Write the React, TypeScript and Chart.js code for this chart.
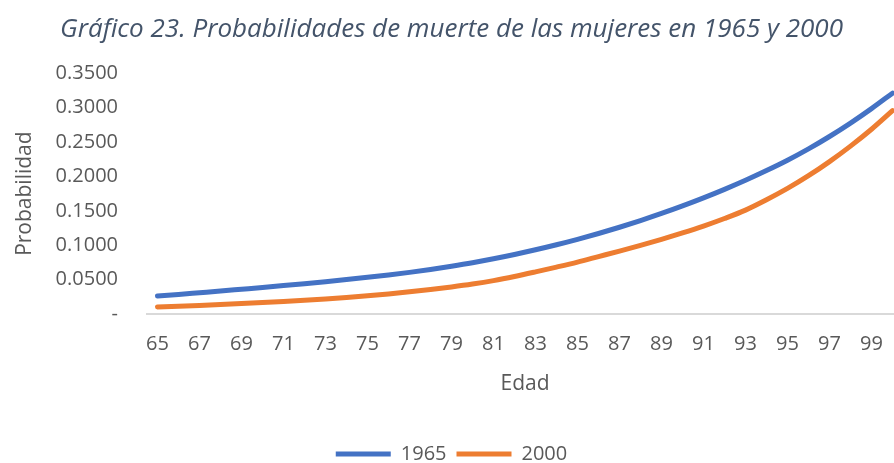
import React, { useEffect, useRef } from "react";
import { Chart, registerables } from "chart.js";

Chart.register(...registerables);

const ages: number[] = [
  65, 66, 67, 68, 69, 70, 71, 72, 73, 74, 75, 76, 77, 78, 79, 80, 81, 82,
  83, 84, 85, 86, 87, 88, 89, 90, 91, 92, 93, 94, 95, 96, 97, 98, 99, 100,
];

const mortality1965: number[] = [
  0.026, 0.0284, 0.0309, 0.0334, 0.036, 0.0386, 0.0413, 0.0441, 0.047, 0.0501,
  0.0533, 0.0567, 0.0605, 0.0648, 0.0695, 0.0746, 0.0803, 0.0865, 0.0933,
  0.1006, 0.1085, 0.117, 0.1261, 0.1358, 0.1461, 0.1571, 0.1688, 0.1812,
  0.1944, 0.2085, 0.2235, 0.24, 0.258, 0.2775, 0.2985, 0.321,
];

const mortality2000: number[] = [
  0.0102, 0.0113, 0.0125, 0.0138, 0.0152, 0.0167, 0.0183, 0.02, 0.0219, 0.0241,
  0.0265, 0.0292, 0.0322, 0.0356, 0.0393, 0.0435, 0.0485, 0.0545, 0.0612,
  0.0682, 0.0755, 0.0835, 0.0915, 0.0998, 0.1085, 0.1178, 0.1278, 0.1388,
  0.151, 0.166, 0.1825, 0.201, 0.2215, 0.244, 0.2685, 0.2955,
];

const seriesNames: string[] = ["1965", "2000"];
const titleText = "Gráfico 23. Probabilidades de muerte de las mujeres en 1965 y 2000";
const xTitle = "Edad";
const yTitle = "Probabilidad";

const FONT = "'Open Sans', 'Noto Sans', sans-serif";
const GREY = "#595959";

export default function App() {
  const canvasRef = useRef<HTMLCanvasElement | null>(null);

  useEffect(() => {
    document.body.style.margin = "0";
    document.body.style.overflow = "hidden";
    const canvas = canvasRef.current;
    if (!canvas) return;
    const chart = new Chart(canvas, {
      type: "line",
      data: {
        labels: ages.map(String),
        datasets: [
          {
            label: seriesNames[0],
            data: mortality1965,
            borderColor: "#4472C4",
            backgroundColor: "#4472C4",
            borderWidth: 5,
            borderCapStyle: "round",
            borderJoinStyle: "round",
            pointRadius: 0,
            cubicInterpolationMode: "monotone",
          },
          {
            label: seriesNames[1],
            data: mortality2000,
            borderColor: "#ED7D31",
            backgroundColor: "#ED7D31",
            borderWidth: 5,
            borderCapStyle: "round",
            borderJoinStyle: "round",
            pointRadius: 0,
            cubicInterpolationMode: "monotone",
          },
        ],
      },
      options: {
        animation: false,
        responsive: true,
        maintainAspectRatio: false,
        layout: { padding: { left: 0, right: 9, top: 0, bottom: 7 } },
        plugins: {
          title: {
            display: true,
            text: titleText,
            color: "#44546A",
            font: { family: FONT, size: 26, style: "italic", weight: "normal" },
            padding: { top: 14, bottom: 28 },
          },
          legend: {
            display: true,
            position: "bottom",
            labels: {
              usePointStyle: true,
              pointStyle: "line",
              pointStyleWidth: 55,
              color: GREY,
              font: { family: FONT, size: 20 },
              padding: 10,
            },
          },
          tooltip: { enabled: false },
        },
        scales: {
          x: {
            type: "category",
            offset: true,
            grid: { display: false, drawTicks: false },
            border: { display: true, color: "#D9D9D9", width: 2 },
            ticks: {
              autoSkip: false,
              maxRotation: 0,
              color: GREY,
              font: { family: FONT, size: 20 },
              padding: 18,
              callback: (_v: any, i: number) => (i % 2 === 0 ? ages[i] : ""),
            },
            title: {
              display: true,
              text: xTitle,
              color: GREY,
              font: { family: FONT, size: 21 },
              padding: { top: 0, bottom: 37 },
            },
            afterFit: (scale: any) => {
              scale.height = 120;
            },
          },
          y: {
            min: 0,
            max: 0.35,
            grid: { display: false, drawTicks: false },
            border: { display: false },
            ticks: {
              stepSize: 0.05,
              color: GREY,
              font: { family: FONT, size: 20 },
              padding: 29,
              callback: (v: any) => (Number(v) === 0 ? "-" : Number(v).toFixed(4)),
            },
            title: {
              display: true,
              text: yTitle,
              color: GREY,
              font: { family: FONT, size: 21 },
              padding: { top: 12, bottom: 0 },
            },
            afterFit: (scale: any) => {
              scale.width = 147;
            },
          },
        },
      },
    });
    return () => chart.destroy();
  }, []);

  return (
    <div style={{ width: 894, height: 463, overflow: "hidden", position: "relative" }}>
      <div style={{ width: 912, height: 481, position: "absolute", left: 0, top: 0 }}>
        <canvas ref={canvasRef} />
      </div>
    </div>
  );
}
